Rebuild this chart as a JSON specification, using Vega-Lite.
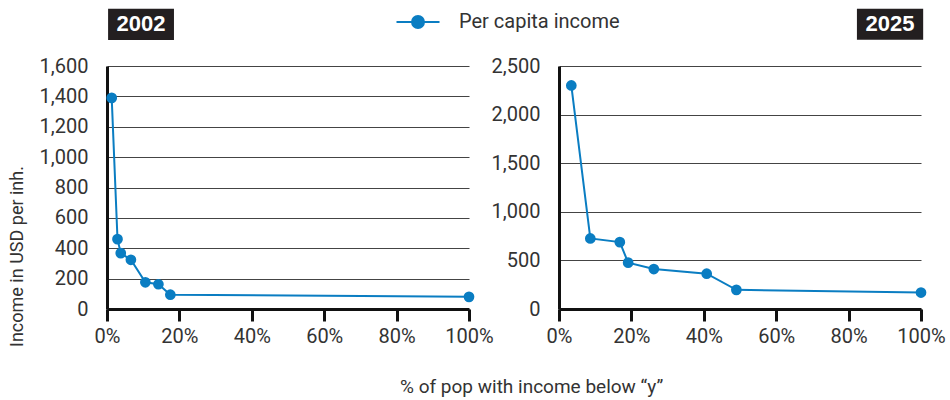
{
  "$schema": "https://vega.github.io/schema/vega-lite/v6.json",
  "padding": {"left": 8, "top": 8, "right": 2, "bottom": 5},
  "spacing": -3,
  "title": {"text": "% of pop with income below “y”", "orient": "bottom", "anchor": "middle", "fontSize": 19, "fontWeight": "normal", "color": "#333", "font": "Roboto", "offset": 32, "dx": 55},
  "config": {
    "font": "Roboto",
    "view": {"stroke": null},
    "axis": {"labelFont": "Roboto", "titleFont": "Roboto", "labelFontSize": 20, "labelColor": "#333", "titleColor": "#333", "titleFontWeight": "normal", "titleFontSize": 18, "domainColor": "#111", "domainWidth": 3},
    "axisX": {"grid": false, "tickColor": "#111", "tickWidth": 3, "tickSize": 12, "labelPadding": 5},
    "axisY": {"ticks": false, "grid": true, "gridColor": "#444", "gridWidth": 1, "labelPadding": 19},
    "legend": {"labelFont": "Roboto", "labelFontSize": 20, "labelColor": "#333", "labelLimit": 0}
  },
  "hconcat": [
    {
      "width": 362,
      "height": 243,
      "layer": [
        {
          "data": {"values": [{"pct": 0.013, "income": 1390}, {"pct": 0.029, "income": 460}, {"pct": 0.038, "income": 368}, {"pct": 0.066, "income": 324}, {"pct": 0.106, "income": 176}, {"pct": 0.142, "income": 163}, {"pct": 0.175, "income": 94}, {"pct": 1.0, "income": 80}]},
          "mark": {"type": "line", "strokeWidth": 2, "point": {"filled": true, "size": 115}},
          "encoding": {
            "x": {"field": "pct", "type": "quantitative", "scale": {"domain": [0, 1], "nice": false}, "axis": {"values": [0, 0.2, 0.4, 0.6, 0.8, 1], "format": ".0%", "title": null, "labelFlush": false, "labelOverlap": false}},
            "y": {"field": "income", "type": "quantitative", "scale": {"domain": [0, 1600], "nice": false}, "axis": {"values": [0, 200, 400, 600, 800, 1000, 1200, 1400, 1600], "format": ",d", "title": "Income in USD per inh.", "titlePadding": 13, "titleY": 190, "labelOverlap": false, "labelFlush": false}},
            "color": {"datum": "Per capita income", "type": "nominal", "scale": {"range": ["#0a7dc2"]}, "legend": {"title": null, "orient": "none", "legendX": 300, "legendY": -55, "symbolType": "M-2.15,0H2.15M-0.6,0A0.6,0.6,0,1,0,0.6,0A0.6,0.6,0,1,0,-0.6,0Z", "symbolSize": 400, "symbolStrokeWidth": 2, "symbolFillColor": "#0a7dc2", "symbolStrokeColor": "#0a7dc2", "labelOffset": 30}}
          }
        },
        {
          "data": {"values": [{"year": "2002"}]},
          "mark": {"type": "rect", "color": "#231f20"},
          "encoding": {
            "x": {"datum": 0.003, "type": "quantitative", "axis": {"values": [0, 0.2, 0.4, 0.6, 0.8, 1], "format": ".0%", "title": null, "labelFlush": false, "labelOverlap": false}},
            "x2": {"datum": 0.185},
            "y": {"datum": 1772, "type": "quantitative", "axis": {"values": [0, 200, 400, 600, 800, 1000, 1200, 1400, 1600], "format": ",d", "title": "Income in USD per inh.", "titlePadding": 13, "titleY": 190, "labelOverlap": false, "labelFlush": false}},
            "y2": {"datum": 1977}
          }
        },
        {
          "data": {"values": [{"year": "2002"}]},
          "mark": {"type": "text", "color": "white", "fontSize": 22, "fontWeight": "bold", "font": "Liberation Sans", "align": "center", "baseline": "middle"},
          "encoding": {
            "x": {"datum": 0.094, "type": "quantitative", "axis": {"values": [0, 0.2, 0.4, 0.6, 0.8, 1], "format": ".0%", "title": null, "labelFlush": false, "labelOverlap": false}},
            "y": {"datum": 1874, "type": "quantitative", "axis": {"values": [0, 200, 400, 600, 800, 1000, 1200, 1400, 1600], "format": ",d", "title": "Income in USD per inh.", "titlePadding": 13, "titleY": 190, "labelOverlap": false, "labelFlush": false}},
            "text": {"field": "year"}
          }
        }
      ]
    },
    {
      "width": 362,
      "height": 243,
      "layer": [
        {
          "data": {"values": [{"pct": 0.034, "income": 2300}, {"pct": 0.0865, "income": 726}, {"pct": 0.168, "income": 688}, {"pct": 0.191, "income": 477}, {"pct": 0.262, "income": 411}, {"pct": 0.408, "income": 363}, {"pct": 0.49, "income": 197}, {"pct": 1.0, "income": 169}]},
          "mark": {"type": "line", "strokeWidth": 2, "point": {"filled": true, "size": 115}},
          "encoding": {
            "x": {"field": "pct", "type": "quantitative", "scale": {"domain": [0, 1], "nice": false}, "axis": {"values": [0, 0.2, 0.4, 0.6, 0.8, 1], "format": ".0%", "title": null, "labelFlush": false, "labelOverlap": false}},
            "y": {"field": "income", "type": "quantitative", "scale": {"domain": [0, 2500], "nice": false}, "axis": {"values": [0, 500, 1000, 1500, 2000, 2500], "format": ",d", "title": null, "labelOverlap": false, "labelFlush": false}},
            "color": {"datum": "Per capita income", "type": "nominal"}
          }
        },
        {
          "data": {"values": [{"year": "2025"}]},
          "mark": {"type": "rect", "color": "#231f20"},
          "encoding": {
            "x": {"datum": 0.823, "type": "quantitative", "axis": {"values": [0, 0.2, 0.4, 0.6, 0.8, 1], "format": ".0%", "title": null, "labelFlush": false, "labelOverlap": false}},
            "x2": {"datum": 1.006},
            "y": {"datum": 2769, "type": "quantitative", "axis": {"values": [0, 500, 1000, 1500, 2000, 2500], "format": ",d", "title": null, "labelOverlap": false, "labelFlush": false}},
            "y2": {"datum": 3089}
          }
        },
        {
          "data": {"values": [{"year": "2025"}]},
          "mark": {"type": "text", "color": "white", "fontSize": 22, "fontWeight": "bold", "font": "Liberation Sans", "align": "center", "baseline": "middle"},
          "encoding": {
            "x": {"datum": 0.9145, "type": "quantitative", "axis": {"values": [0, 0.2, 0.4, 0.6, 0.8, 1], "format": ".0%", "title": null, "labelFlush": false, "labelOverlap": false}},
            "y": {"datum": 2929, "type": "quantitative", "axis": {"values": [0, 500, 1000, 1500, 2000, 2500], "format": ",d", "title": null, "labelOverlap": false, "labelFlush": false}},
            "text": {"field": "year"}
          }
        }
      ]
    }
  ]
}
